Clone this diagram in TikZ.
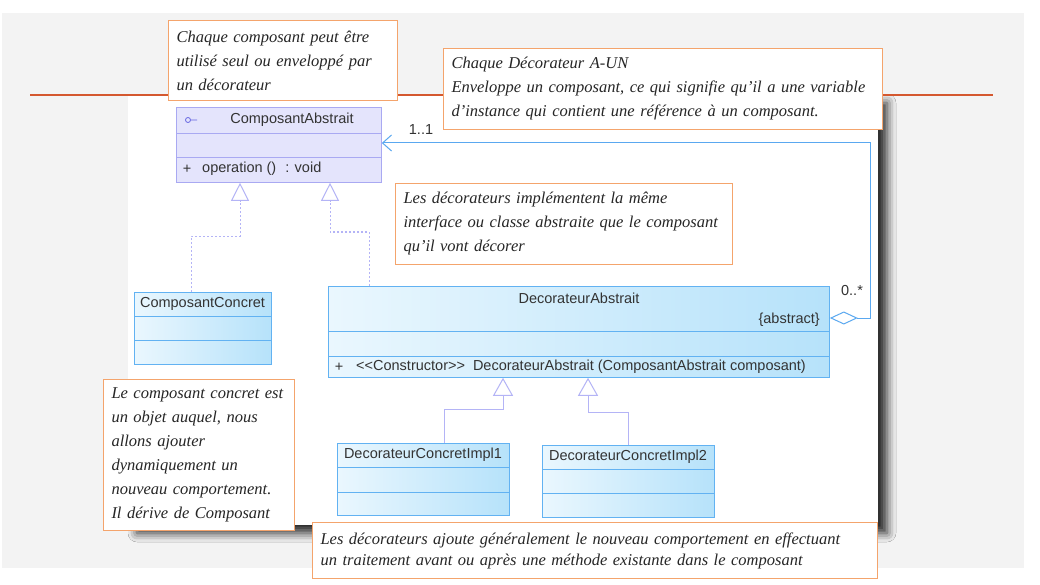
\documentclass[tikz,border=0pt]{standalone}
\usepackage{fontspec}
\setmainfont{Liberation Serif}
\newfontfamily\clsfont{Liberation Sans}
\usetikzlibrary{arrows.meta,shadows.blur}

\definecolor{bggray}{HTML}{F3F3F3}
\definecolor{rulered}{HTML}{D4582F}
\definecolor{noteedge}{HTML}{F4A46C}
\definecolor{lavfill}{HTML}{E4E4FC}
\definecolor{lavedge}{HTML}{A9A9F2}
\definecolor{iconblue}{HTML}{6464E0}
\definecolor{blueedge}{HTML}{62B2F2}
\definecolor{bluelight}{HTML}{EAF7FE}
\definecolor{bluedark}{HTML}{B6E2FA}
\definecolor{linkblue}{HTML}{5AA8F0}
\definecolor{genlav}{HTML}{B4B4F6}
\definecolor{txtgray}{HTML}{333333}

\tikzset{
  note/.style={draw=noteedge, fill=white, line width=1pt, anchor=north west, align=left,
    font=\fontsize{16.5}{24}\selectfont\itshape, text=black!85, inner xsep=8pt, inner ysep=4pt},
  absbox/.style={draw=lavedge, fill=lavfill, line width=0.8pt, anchor=north west, inner sep=0pt},
  clsbox/.style={draw=blueedge, left color=bluelight, right color=bluedark, line width=0.8pt,
    anchor=north west, inner sep=0pt},
  clstext/.style={font=\clsfont\fontsize{14.5}{16}\selectfont, text=txtgray, inner sep=0pt},
  realize/.style={draw=genlav, line width=1pt, dash pattern=on 2pt off 2pt,
    -{Triangle[open, length=18pt, width=18pt, fill=white]}},
  generalize/.style={draw=genlav, line width=1pt,
    -{Triangle[open, length=18pt, width=20pt, fill=white]}},
  assoc/.style={draw=linkblue, line width=1pt,
    {Diamond[open, length=28pt, width=13pt, fill=white]}-{Straight Barb[length=9pt, width=16pt]}}
}

\begin{document}
\begin{tikzpicture}[x=1pt, y=-1pt]
\useasboundingbox (0,0) rectangle (1040,585);
\fill[bggray] (2,13) rectangle (1024,568);
%Panel
\fill[white, blur shadow={shadow xshift=9pt, shadow yshift=-8pt, shadow blur radius=9pt, shadow opacity=85}] (128,95) rectangle (878,525);
\draw[rulered, line width=1.8pt] (30,95) -- (993,95);

%Classes
\node[absbox, minimum width=205pt, minimum height=75pt] (ca) at (176,107) {};
\draw[lavedge, line width=0.8pt] ([yshift=-26pt]ca.north west) -- ([yshift=-26pt]ca.north east);
\draw[lavedge, line width=0.8pt] ([yshift=-50pt]ca.north west) -- ([yshift=-50pt]ca.north east);
\draw[iconblue, line width=0.8pt] (188,120) circle (2.5pt) (190.5,120) -- (197,120);
\node[clstext] (caname) at (292,120) {ComposantAbstrait};
\node[clstext] (caplus) at (187,169) {+};
\node[clstext, anchor=west] (caop) at (202,169) {operation ()\hspace{9pt}: void};

\node[clsbox, minimum width=137pt, minimum height=72pt] (cc) at (134,292) {};
\draw[blueedge, line width=0.8pt] ([yshift=-24pt]cc.north west) -- ([yshift=-24pt]cc.north east);
\draw[blueedge, line width=0.8pt] ([yshift=-48pt]cc.north west) -- ([yshift=-48pt]cc.north east);
\node[clstext] (ccname) at (202.5,304) {ComposantConcret};

\node[clsbox, minimum width=501pt, minimum height=91pt] (da) at (328,286) {};
\draw[blueedge, line width=0.8pt] ([yshift=-45pt]da.north west) -- ([yshift=-45pt]da.north east);
\draw[blueedge, line width=0.8pt] ([yshift=-70pt]da.north west) -- ([yshift=-70pt]da.north east);
\node[clstext] (daname) at (579,298) {DecorateurAbstrait};
\node[clstext, anchor=east] (daabs) at (820,320) {\{abstract\}};
\node[clstext] (daplus) at (339,367) {+};
\node[clstext, anchor=west] (dactor) at (356,367) {<\kern0pt<Constructor>\kern0pt>\hspace{8pt}DecorateurAbstrait (ComposantAbstrait composant)};

\node[clsbox, minimum width=172pt, minimum height=72pt] (di1) at (337,443) {};
\draw[blueedge, line width=0.8pt] ([yshift=-24pt]di1.north west) -- ([yshift=-24pt]di1.north east);
\draw[blueedge, line width=0.8pt] ([yshift=-49pt]di1.north west) -- ([yshift=-49pt]di1.north east);
\node[clstext] (di1name) at (423,455) {DecorateurConcretImpl1};

\node[clsbox, minimum width=172pt, minimum height=72pt] (di2) at (542,445) {};
\draw[blueedge, line width=0.8pt] ([yshift=-24pt]di2.north west) -- ([yshift=-24pt]di2.north east);
\draw[blueedge, line width=0.8pt] ([yshift=-48pt]di2.north west) -- ([yshift=-48pt]di2.north east);
\node[clstext] (di2name) at (628,457) {DecorateurConcretImpl2};

%Connectors
\coordinate (r1a) at (191,236);
\coordinate (r1b) at (240,236);
\draw[realize] (r1a |- cc.north) -- (r1a) -- (r1b) -- (r1b |- ca.south);
\coordinate (r2a) at (369,232);
\coordinate (r2b) at (330,232);
\draw[realize] (r2a |- da.north) -- (r2a) -- (r2b) -- (r2b |- ca.south);
\coordinate (g1a) at (444,409);
\coordinate (g1b) at (503,409);
\draw[generalize] (g1a |- di1.north) -- (g1a) -- (g1b) -- (g1b |- da.south);
\coordinate (g2a) at (628,412);
\coordinate (g2b) at (588,412);
\draw[generalize] (g2a |- di2.north) -- (g2a) -- (g2b) -- (g2b |- da.south);
\coordinate (k1) at (870,143);
\coordinate (k2) at (870,318);
\draw[assoc] (da.east |- k2) -- (k2) -- (k1) -- (k1 -| ca.east);
\node[clstext] (mult1) at (421,130) {1..1};
\node[clstext] (mult2) at (852,291) {0..*};

%Notes
\node[note, text width=213pt, minimum height=80pt] (n1) at (168,20)
  {Chaque composant peut être\\utilisé seul ou enveloppé par\\un décorateur};
\node[note, text width=423pt, minimum height=81pt] (n2) at (443,48)
  {Chaque Décorateur A-UN\\Enveloppe un composant, ce qui signifie qu'il a une variable\\d'instance qui contient une référence à un composant.};
\node[note, text width=321pt, minimum height=81pt] (n3) at (395,183)
  {Les décorateurs implémentent la même\\interface ou classe abstraite que le composant\\qu'il vont décorer};
\node[note, text width=175pt, minimum height=151pt] (n4) at (103,379)
  {Le composant concret est\\un objet auquel, nous\\allons ajouter\\dynamiquement un\\nouveau comportement.\\Il dérive de Composant};
\node[note, text width=549pt, minimum height=56pt, font=\fontsize{16.5}{21}\selectfont\itshape] (n5) at (312,522)
  {Les décorateurs ajoute généralement le nouveau comportement en effectuant\\un traitement avant ou après une méthode existante dans le composant};
\end{tikzpicture}
\end{document}
